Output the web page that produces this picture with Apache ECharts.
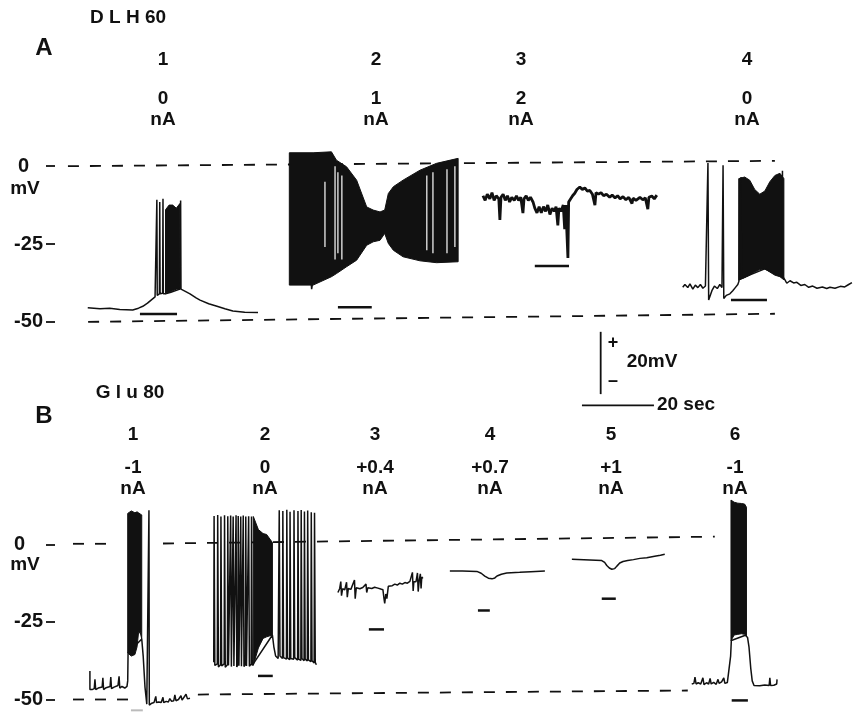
<!DOCTYPE html>
<html>
<head>
<meta charset="utf-8">
<script src="https://cdn.jsdelivr.net/npm/echarts@6/dist/echarts.min.js"></script>
<style>
  html, body { margin: 0; background: #fff; }
  #chart { width: 853px; height: 715px; }
</style>
</head>
<body>
<div id="chart"></div>
<script>
const INK = '#111';
const FONT = 'Liberation Sans';

// time in seconds, potential in mV
const yTickValues = [0, -25, -50];

// ---- panel A : DLH 60 ----
const aNumbers = ['1', '2', '3', '4'];
const aCurrents = ['0', '1', '2', '0'];

const aTrace1 = [[11.9,-45.5],[15.3,-45.8],[18,-45.6],[20.8,-46],[24.4,-46.2],[26,-45.6],[27.2,-45],[28.5,-44],
  [29.5,-43],[30.6,-42],[31.0,-41.8],[31.1,-10.8],[31.2,-41.5],[31.8,-41],[31.9,-11.5],[32.0,-41],[32.7,-40.8],
  [32.8,-10.5],[32.9,-41],[33.5,-41],[35,-40.5],[37.5,-39.5],[37.7,-11],[37.8,-39.5],[38.1,-39.5],[39,-40.2],
  [40.3,-41],[42,-42.3],[43.1,-43],[45.5,-44.2],[47.8,-45],[50,-45.8],[52.2,-46.5],[55.5,-46.9],[59.2,-47]];
const aBand1 = [[33.5,-41,-14],[34.5,-40.5,-12.5],[35.5,-40,-12.5],[36.5,-39.5,-13.5],[37.5,-39.5,-12]];

const aTrace2 = [[74.0,-38],[74.1,-39.5],[74.3,-38]];
const aBand2 = [[67.9,-38.2,4.3],[74.5,-38.2,4.3],[79.6,-35.5,4.6],[81,-34.5,1.9],[83.8,-32.3,-0.2],
  [86.6,-30.2,-4.5],[89.4,-25.4,-13.1],[91.2,-24.3,-14.1],[93.1,-23.8,-14.7],[94.4,-21.6,-14.1],
  [95.4,-24.8,-8.8],[96.8,-27,-6.6],[99.5,-29.1,-4.5],[104.2,-30.4,-1.3],[108.8,-31,0.9],[114.8,-30.7,2.5]];
// light gaps between spikes inside the dense part: [time, low, high]
const aGaps2 = [[77.8,-26,-5],[80.6,-30,0],[81.4,-28,-2],[82.5,-30,-3],[106.1,-27,-3],[107.8,-28,-2],
  [111.7,-28,-1],[113.9,-26,0]];

const aTrace3 = [[121.7,-9.5],[122.3,-11],[122.9,-9],[123.6,-10.5],[124.2,-8.5],[124.8,-11],[125.4,-9.5],
  [126.1,-10.5],[126.4,-17.3],[126.7,-10],[127.3,-9],[127.9,-11],[128.5,-9.5],[129.1,-11.5],[129.7,-10],
  [130.4,-11],[131,-9.5],[131.6,-11],[132.2,-10],[132.8,-15.1],[133.1,-10.5],[133.7,-9.5],[134.3,-11],
  [134.9,-10],[135.6,-11.5],[136.1,-13.5],[136.7,-15],[137.3,-13],[137.9,-15],[138.5,-13],[139.1,-14.5],
  [139.7,-12.5],[140.3,-15.5],[140.9,-13.5],[141.5,-14.5],[142,-13],[142.5,-19],[142.8,-13.5],[143.4,-14.5],
  [144,-12.5],[144.4,-20.2],[144.7,-12.5],[145.1,-12],[145.3,-29.5],[145.5,-11.5],[146,-11],[146.6,-9.5],
  [147.2,-8.7],[147.8,-7.5],[148.6,-6.7],[149.3,-7.5],[150,-7],[150.7,-8],[151.4,-7.8],[152.1,-9],
  [152.8,-12.5],[153.1,-8.5],[153.8,-9],[154.5,-8.5],[155.2,-9.5],[156,-9],[156.9,-10],[157.6,-9.3],
  [158.4,-10.2],[159.1,-9.5],[159.8,-10.5],[160.6,-9.8],[161.4,-10.8],[162.2,-10],[163.1,-12],[163.4,-10.3],
  [164.2,-11],[165.3,-10],[166.1,-10.8],[166.8,-10.2],[167.5,-13.8],[167.8,-10],[168.6,-9.6],[169.3,-10.5],
  [170,-9.3]];

const aTrace4 = [[177.2,-38.9],[177.8,-38],[178.6,-39],[179.2,-37.8],[180,-39.5],[180.7,-38.2],[181.4,-39],
  [182.1,-38],[182.8,-39.2],[183.5,-38.5],[184.0,-39],[184.2,1],[184.4,-43],[185.3,-40],[186,-38.5],
  [186.8,-39.3],[187.5,-38],[188.1,-39],[188.4,0.3],[188.6,-42.5],[189.3,-41.5],[190.3,-41],[191.1,-40],
  [191.8,-39],[192.5,-38],[192.8,-37],[192.9,-4],[193.0,-36.5],[193.4,-3.5],[193.5,-36],[200,-33],
  [204.8,-35.5],[204.9,-1.5],[205.0,-35.5],[205.6,-36.5],[206.1,-37.6],[207,-36.8],[208,-37.5],[208.9,-37.3],
  [210,-38.3],[211.1,-38],[212.2,-38.9],[213.3,-38.5],[214.5,-39.2],[216,-38.8],[217.2,-39.3],[218.1,-38.9],
  [219.5,-39.2],[221,-38.6],[222.2,-38.8],[223.3,-38],[224.2,-37.4]];
const aBand4 = [[192.8,-36.6,-4],[194.4,-35.8,-3.5],[195.8,-35,-4.5],[197.2,-34,-7.5],[198.6,-33.2,-9],
  [200,-33,-8],[201.4,-34,-5],[202.8,-35,-3],[204.2,-35.5,-2.3],[205.3,-36.5,-4]];

// stimulus bars: [start, end, level]
const aBars = [[26.4,36.7,-47.5],[81.4,90.8,-45.3],[136.1,145.6,-32.1],[190.6,200.6,-43]];
// dashed reference lines
const aZeroLine = [[6.4,0],[202.8,1.7]];
const aMinusFiftyLine = [[12,-50],[202.8,-47.4]];

// calibration: 20 mV, 20 sec
const calVolt = [[154.4,-53.2],[154.4,-73.2]];
const calTime = [[149.2,-76.8],[169.2,-76.8]];

// ---- panel B : Glu 80 ----
const bNumbers = ['1', '2', '3', '4', '5', '6'];
const bCurrents = ['-1', '0', '+0.4', '+0.7', '+1', '-1'];

const bTrace1 = [[12.5,-40.8],[12.5,-46.8],[13.1,-46.8],[13.7,-46.5],[13.9,-43.5],[14.1,-46.8],[14.8,-46.3],
  [15.3,-46.6],[15.9,-46],[16.1,-43],[16.3,-46.8],[17,-46.2],[17.5,-46.6],[18.1,-45.8],[18.3,-42.8],
  [18.5,-46.5],[19.2,-46],[19.7,-46.4],[20.3,-45.5],[20.6,-42.5],[20.8,-46.3],[21.4,-45.8],[22.2,-46.3],
  [22.8,-45.8],[23.0,-44],[23.1,-35],[26.9,-30.5],[27.3,-36],[27.8,-46],[28.3,-51.5],[28.8,-51.5],
  [28.9,11],[29.0,-51.8],[29.7,-51.2],[30.3,-51],[30.8,-49],[31.0,-51],[31.6,-50.8],[32.3,-51],[32.8,-49.3],
  [33.0,-51],[33.7,-50.6],[34.3,-50.8],[34.7,-49.7],[35.2,-50.6],[35.8,-50.4],[36.1,-48.5],[36.4,-50.4],
  [37.1,-50],[37.8,-48.8],[38.1,-50.2],[38.6,-49.6],[39.2,-48.3],[39.6,-49.8],[40.3,-49.6]];
const bBand1 = [[23.0,-35,10],[24.0,-36,10.8],[25.0,-35.5,10.2],[25.6,-33,10.5],[26.0,-28.5,10.2],
  [26.5,-28.5,9.8],[26.9,-30.5,9.5]];

const bTrace2 = [[46.9,-38],[47.0,9.2],[47.2,-39],[47.9,-38.5],[48.0,9.5],[48.2,-39.5],[48.8,-38.8],[48.9,9],
  [49.1,-39.2],[49.8,-38.5],[49.9,9.4],[50.1,-39.6],[50.7,-38.8],[50.8,9.1],[51.0,-39],[51.5,-38.6],[51.6,9.3],
  [51.8,-39.4],[52.2,-38.9],[52.3,9],[52.5,-39.2],[53.0,-38.6],[53.1,9.4],[53.3,-39.5],[53.6,-38.8],[53.7,9.2],
  [53.9,-39.1],[54.3,-38.6],[54.4,9],[54.6,-39.3],[55.0,-38.9],[55.1,9.3],[55.3,-39.4],[55.7,-38.7],[55.8,9],
  [56.0,-39.2],[56.5,-38.8],[56.6,9.1],[56.8,-39.3],[57.3,-38.6],[57.4,9],[57.6,-39],[57.9,-39],
  [63.2,-29.2],[63.6,-33],[64.1,-36],[64.8,-36.8],[65.0,-36.5],[65.1,11],[65.3,-36],[66.0,-36.8],[66.1,10.8],
  [66.3,-36.5],[67.1,-37],[67.2,11.2],[67.4,-36.6],[68.0,-37.2],[68.1,10.5],[68.3,-36.8],[69.1,-37],[69.2,11],
  [69.4,-36.5],[70.2,-37.3],[70.3,10.8],[70.5,-37],[71.1,-37.4],[71.2,11.1],[71.4,-36.8],[72.0,-37.5],
  [72.1,10.6],[72.3,-37],[72.9,-37.6],[73.0,10.9],[73.2,-37.2],[73.9,-37.8],[74.0,10.4],[74.2,-37.5],
  [74.8,-38.2],[74.9,10.2],[75.1,-38],[75.4,-38.8]];
const bBand2 = [[57.9,-39,9],[59.3,-33.4,4.8],[60.6,-30.3,3.5],[61.6,-29.8,3.2],[63.2,-29.2,0.6]];

const bTrace3 = [[81.4,-15.5],[81.9,-14.2],[82.2,-12],[82.4,-16.5],[82.7,-14.3],[83.3,-14.6],[83.8,-12.2],
  [84,-17],[84.3,-14.2],[85,-14.5],[85.5,-14],[86,-11.5],[86.2,-17.5],[86.5,-14],[87.5,-14.3],[88.3,-13.9],
  [89.2,-12.8],[89.4,-15.5],[89.7,-14],[90.8,-14.2],[91.6,-13.8],[92.5,-14.1],[93.3,-14.4],[93.9,-14.6],
  [94.2,-17.5],[94.4,-19],[94.7,-16],[95,-17.5],[95.4,-13.5],[95.8,-13],[96.5,-13.3],[97.2,-12.8],[97.9,-13.1],
  [98.6,-12.5],[99.3,-12.8],[100,-12.3],[100.7,-12.5],[101.4,-11.9],[101.9,-12.3],[102.1,-9],[102.3,-15],
  [102.5,-12],[103.1,-12],[103.5,-9.2],[103.7,-15.2],[104,-11.5],[104.3,-9.5],[104.5,-14.2],[104.7,-10.5],
  [105,-11]];
const bTrace4 = [[112.5,-8.6],[116,-8.6],[120,-8.7],[121.2,-9.3],[122.2,-10.2],[123.2,-10.9],[124.2,-11.1],
  [125,-10.8],[125.6,-10.2],[126.8,-9.6],[128.3,-9.2],[131.9,-9],[135,-8.8],[138.9,-8.6]];
const bTrace5 = [[146.4,-4.8],[151.4,-5],[154.7,-5.2],[155.5,-5.8],[156.1,-6.8],[156.8,-7.6],[157.5,-8],
  [158.3,-7.8],[158.9,-7],[159.7,-6],[160.6,-5.5],[161.9,-5.2],[163.5,-4.9],[165.3,-4.5],[167.2,-4.3],
  [169.4,-3.8],[171,-3.5],[172.2,-3.2]];
const bTrace6 = [[179.7,-45],[180.3,-44.8],[180.6,-42.8],[180.9,-45],[181.5,-44.6],[182.2,-45],[182.8,-43],
  [183.1,-45.2],[183.8,-44.6],[184.4,-45],[184.8,-43.2],[185.1,-45],[185.8,-44.5],[186.5,-45.1],[187,-43.5],
  [187.3,-44.8],[188,-44.3],[188.6,-43],[188.9,-44.8],[189.6,-44.5],[190.1,-44],[190.5,-36],[190.7,-31],
  [194.6,-29.3],[195.2,-30],[195.6,-33],[196.1,-40],[196.5,-44],[197,-45.5],[198.6,-45.6],[200,-45.3],
  [201.2,-45.5],[201.4,-43],[201.6,-45.5],[202.5,-45.4],[203.3,-45],[203.4,-43.5]];
const bBand6 = [[190.6,-31,14.3],[191.5,-29.2,13.6],[192.5,-29,13.3],[193.5,-28.8,13.2],[194.4,-29,13],[194.9,-29.5,12]];

const bBars = [[59.2,63.3,-42.4],[90,94.2,-27.4],[120.3,123.6,-21.3],[154.7,158.6,-17.5],[190.8,195.3,-50.3]];
const bBarsFaint = [[23.9,27.2,-53.5]];
const bZeroLines = [[[7.8,0.2],[17.5,0.2]], [[32.8,0.3],[186.1,2.5]]];
const bMinusFiftyLines = [[[7.8,-50],[23.6,-50]], [[42.5,-48.4],[178.6,-47.1]]];

// ---- layout (pixels) ----
const aLabelX = [163, 376, 521, 747];
const bLabelX = [133, 265, 375, 490, 611, 735];

const chart = echarts.init(document.getElementById('chart'));

function trace(g, data, width) {
  return { type: 'line', xAxisIndex: g, yAxisIndex: g, data: data, showSymbol: false, symbol: 'none',
    clip: false, silent: true, z: 3, lineStyle: { color: INK, width: width || 1.5 } };
}
function dashed(g, data) {
  return { type: 'line', xAxisIndex: g, yAxisIndex: g, data: data, showSymbol: false, symbol: 'none',
    clip: false, silent: true, z: 1, lineStyle: { color: INK, width: 1.8, type: [11, 11] } };
}
function band(g, rows) {
  return { type: 'custom', xAxisIndex: g, yAxisIndex: g, data: rows, clip: false, silent: true, z: 3,
    renderItem: function (params, api) {
      if (params.dataIndex !== 0) return null;
      const top = rows.map(r => api.coord([r[0], r[2]]));
      const bot = rows.slice().reverse().map(r => api.coord([r[0], r[1]]));
      return { type: 'polygon', shape: { points: top.concat(bot) },
        style: { fill: INK, stroke: INK, lineWidth: 1 } };
    } };
}
function gaps(g, rows) {
  return { type: 'custom', xAxisIndex: g, yAxisIndex: g, data: rows, clip: false, silent: true, z: 4,
    renderItem: function (params, api) {
      const p0 = api.coord([api.value(0), api.value(1)]);
      const p1 = api.coord([api.value(0), api.value(2)]);
      return { type: 'line', shape: { x1: p0[0], y1: p0[1], x2: p1[0], y2: p1[1] },
        style: { stroke: '#fff', lineWidth: 1.2 } };
    } };
}
function bars(g, rows, color, width) {
  return { type: 'custom', xAxisIndex: g, yAxisIndex: g, data: rows, clip: false, silent: true, z: 3,
    renderItem: function (params, api) {
      const p0 = api.coord([api.value(0), api.value(2)]);
      const p1 = api.coord([api.value(1), api.value(2)]);
      return { type: 'line', shape: { x1: p0[0], y1: p0[1], x2: p1[0], y2: p1[1] },
        style: { stroke: color, lineWidth: width } };
    } };
}

function yAxisFor(g, min, max, zeroPad) {
  return { gridIndex: g, type: 'value', min: min, max: max,
    axisLine: { show: false }, splitLine: { show: false },
    axisTick: { show: true, customValues: yTickValues, length: 9, lineStyle: { color: INK, width: 1.8 } },
    axisLabel: { customValues: yTickValues, margin: 12, color: INK, fontSize: 20, fontWeight: 'bold',
      fontFamily: FONT,
      formatter: v => v === 0 ? '{z|0}' : String(v),
      rich: { z: { padding: [0, zeroPad, 0, 0], fontSize: 20, fontWeight: 'bold', fontFamily: FONT, color: INK } } } };
}
function xAxisFor(g) {
  return { gridIndex: g, type: 'value', min: 2.8, max: 224.5, show: false };
}

function txt(x, y, s, size) {
  return { type: 'text', x: x, y: y, silent: true,
    style: { text: s, fill: INK, fontSize: size || 19, fontWeight: 'bold', fontFamily: FONT,
      align: 'center', verticalAlign: 'middle', textAlign: 'center', textVerticalAlign: 'middle' } };
}

const graphics = [
  txt(128, 18, 'D L H 60', 19), txt(44, 48, 'A', 24), txt(25, 189, 'mV', 19),
  txt(130, 393, 'G l u 80', 19), txt(44, 416, 'B', 24), txt(25, 565, 'mV', 19),
  txt(613, 343, '+', 18), txt(613, 381, '\u2013', 18), txt(652, 362, '20mV', 19), txt(686, 405, '20 sec', 19)
];
aNumbers.forEach((s, i) => {
  graphics.push(txt(aLabelX[i], 60, s), txt(aLabelX[i], 99, aCurrents[i]), txt(aLabelX[i], 120, 'nA'));
});
bNumbers.forEach((s, i) => {
  graphics.push(txt(bLabelX[i], 435, s), txt(bLabelX[i], 468, bCurrents[i]), txt(bLabelX[i], 489, 'nA'));
});

const series = [
  dashed(0, aZeroLine), dashed(0, aMinusFiftyLine),
  trace(0, aTrace1), band(0, aBand1),
  trace(0, aTrace2), band(0, aBand2), gaps(0, aGaps2),
  trace(0, aTrace3, 2.8),
  trace(0, aTrace4), band(0, aBand4),
  bars(0, aBars, INK, 2.5),
  trace(0, calVolt, 1.8), trace(0, calTime, 1.8),
  trace(1, bTrace1), band(1, bBand1),
  trace(1, bTrace2), band(1, bBand2),
  trace(1, bTrace3), trace(1, bTrace4), trace(1, bTrace5),
  trace(1, bTrace6), band(1, bBand6),
  bars(1, bBars, INK, 2.5), bars(1, bBarsFaint, '#bbb', 2)
];
bZeroLines.forEach(d => series.push(dashed(1, d)));
bMinusFiftyLines.forEach(d => series.push(dashed(1, d)));

chart.setOption({
  animation: false,
  backgroundColor: '#fff',
  grid: [
    { left: 55, right: 0, top: 135, height: 280.3 },
    { left: 55, right: 0, top: 497.9, height: 219.8 }
  ],
  xAxis: [xAxisFor(0), xAxisFor(1)],
  yAxis: [yAxisFor(0, -80, 10, 14), yAxisFor(1, -55, 15, 18)],
  graphic: graphics,
  series: series
});
</script>
</body>
</html>
